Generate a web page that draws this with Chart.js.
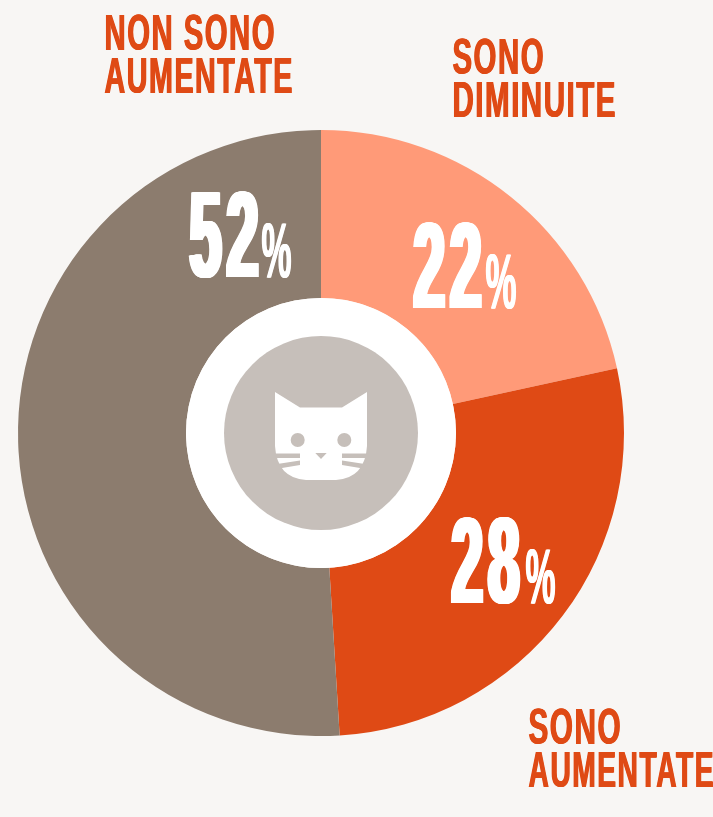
<!DOCTYPE html>
<html lang="it">
<head>
<meta charset="utf-8">
<title>Sono aumentate</title>
<script src="https://cdn.jsdelivr.net/npm/chart.js@4/dist/chart.umd.js"></script>
<style>
  html, body { margin: 0; padding: 0; background: #f8f6f4; overflow: hidden; }
  #wrap { position: relative; width: 713px; height: 817px; }
</style>
</head>
<body>
<div id="wrap"><canvas id="chart" width="713" height="817"></canvas></div>
<script>
const categories = ['Sono diminuite', 'Sono aumentate', 'Non sono aumentate'];
const values = [22, 28, 52];
const colors = ['#ff9a78', '#df4a15', '#8c7c6e'];

const ORANGE = '#df4a15';
const GREY = '#c6bfba';
const FONT = '"Liberation Sans Narrow", "Liberation Sans", sans-serif';

// text squeezed to the measured width, the source uses a condensed display face.
// heavy = px of extra stem thickness on each side, done by repeating the fill,
// gap = px between letters so the thicker stems do not run together
function fitText(ctx, text, x, baseline, capHeight, width, color, heavy, gap) {
  const h = heavy || 0;
  const g = gap || 0;
  const size = capHeight / 0.7;
  ctx.save();
  ctx.font = 'bold ' + size + 'px ' + FONT;
  ctx.textBaseline = 'alphabetic';
  ctx.textAlign = 'left';
  ctx.fillStyle = color;
  const sx = (width - 2 * h - (text.length - 1) * g) / ctx.measureText(text).width;
  ctx.letterSpacing = (g / sx) + 'px';
  for (let dx = -h; dx <= h; dx += 0.5) {
    ctx.save();
    ctx.translate(x + h + dx, baseline);
    ctx.scale(sx, 1);
    ctx.fillText(text, 0, 0);
    ctx.restore();
  }
  ctx.restore();
}

const headings = [
  { lines: ['SONO', 'DIMINUITE'], x: 452, base: [74, 117], w: [92, 164] },
  { lines: ['SONO', 'AUMENTATE'], x: 528, base: [744, 787], w: [93, 186] },
  { lines: ['NON SONO', 'AUMENTATE'], x: 104, base: [50, 93], w: [171, 189] }
];
const pctBoxes = [
  { x: 411, base: 308, w: 73, px: 485, pw: 32 },
  { x: 449, base: 603, w: 73, px: 525, pw: 31 },
  { x: 187, base: 277, w: 74, px: 261, pw: 31 }
];

function drawCat(ctx) {
  ctx.save();
  ctx.fillStyle = '#ffffff';
  ctx.beginPath();
  ctx.moveTo(275, 392);
  ctx.lineTo(300, 407.5);
  ctx.lineTo(342, 407.5);
  ctx.lineTo(367, 392);
  ctx.lineTo(367, 446);
  ctx.quadraticCurveTo(365, 478, 336, 480);
  ctx.lineTo(306, 480);
  ctx.quadraticCurveTo(277, 478, 275, 446);
  ctx.closePath();
  ctx.fill();

  ctx.fillStyle = GREY;
  ctx.beginPath();
  ctx.arc(297.7, 440, 7, 0, Math.PI * 2);
  ctx.arc(344.3, 440, 7, 0, Math.PI * 2);
  ctx.fill();
  ctx.beginPath();
  ctx.moveTo(315.3, 453);
  ctx.lineTo(326.7, 453);
  ctx.lineTo(321, 459);
  ctx.closePath();
  ctx.fill();

  // whiskers, mirrored around the middle
  [1, -1].forEach(function (s) {
    const mx = x => 321 + s * x;
    ctx.beginPath();
    ctx.moveTo(mx(-47), 453.5);
    ctx.lineTo(mx(-21), 453.5);
    ctx.lineTo(mx(-21), 458);
    ctx.lineTo(mx(-47), 458);
    ctx.closePath();
    ctx.fill();
    ctx.beginPath();
    ctx.moveTo(mx(-47), 464.5);
    ctx.lineTo(mx(-21), 460.5);
    ctx.lineTo(mx(-21), 465);
    ctx.lineTo(mx(-42), 468.5);
    ctx.lineTo(mx(-47), 468.5);
    ctx.closePath();
    ctx.fill();
  });
  ctx.restore();
}

const decorPlugin = {
  id: 'decor',
  afterDatasetsDraw(chart) {
    const ctx = chart.ctx;
    const arc = chart.getDatasetMeta(0).data[0];

    ctx.save();
    ctx.fillStyle = '#ffffff';
    ctx.beginPath();
    ctx.arc(arc.x, arc.y, arc.innerRadius, 0, Math.PI * 2);
    ctx.fill();
    ctx.fillStyle = GREY;
    ctx.beginPath();
    ctx.arc(arc.x, arc.y, 97, 0, Math.PI * 2);
    ctx.fill();
    ctx.restore();
    drawCat(ctx);

    values.forEach(function (v, i) {
      const b = pctBoxes[i];
      fitText(ctx, String(v), b.x, b.base, 86, b.w, '#ffffff', 2.5, 5);
      fitText(ctx, '%', b.px, b.base, 55, b.pw, '#ffffff', 0.5);
    });

    headings.forEach(function (h) {
      h.lines.forEach(function (line, j) {
        fitText(ctx, line, h.x, h.base[j], 35, h.w[j], ORANGE, 0.5, 1.5);
      });
    });
  }
};

new Chart(document.getElementById('chart').getContext('2d'), {
  type: 'doughnut',
  data: {
    labels: categories,
    datasets: [{
      data: values,
      backgroundColor: colors,
      borderWidth: 0
    }]
  },
  options: {
    responsive: false,
    animation: false,
    cutout: 135,
    layout: { padding: { left: 0, right: 71, top: 130, bottom: 81 } },
    plugins: {
      legend: { display: false },
      tooltip: { enabled: false }
    }
  },
  plugins: [decorPlugin]
});
</script>
</body>
</html>
